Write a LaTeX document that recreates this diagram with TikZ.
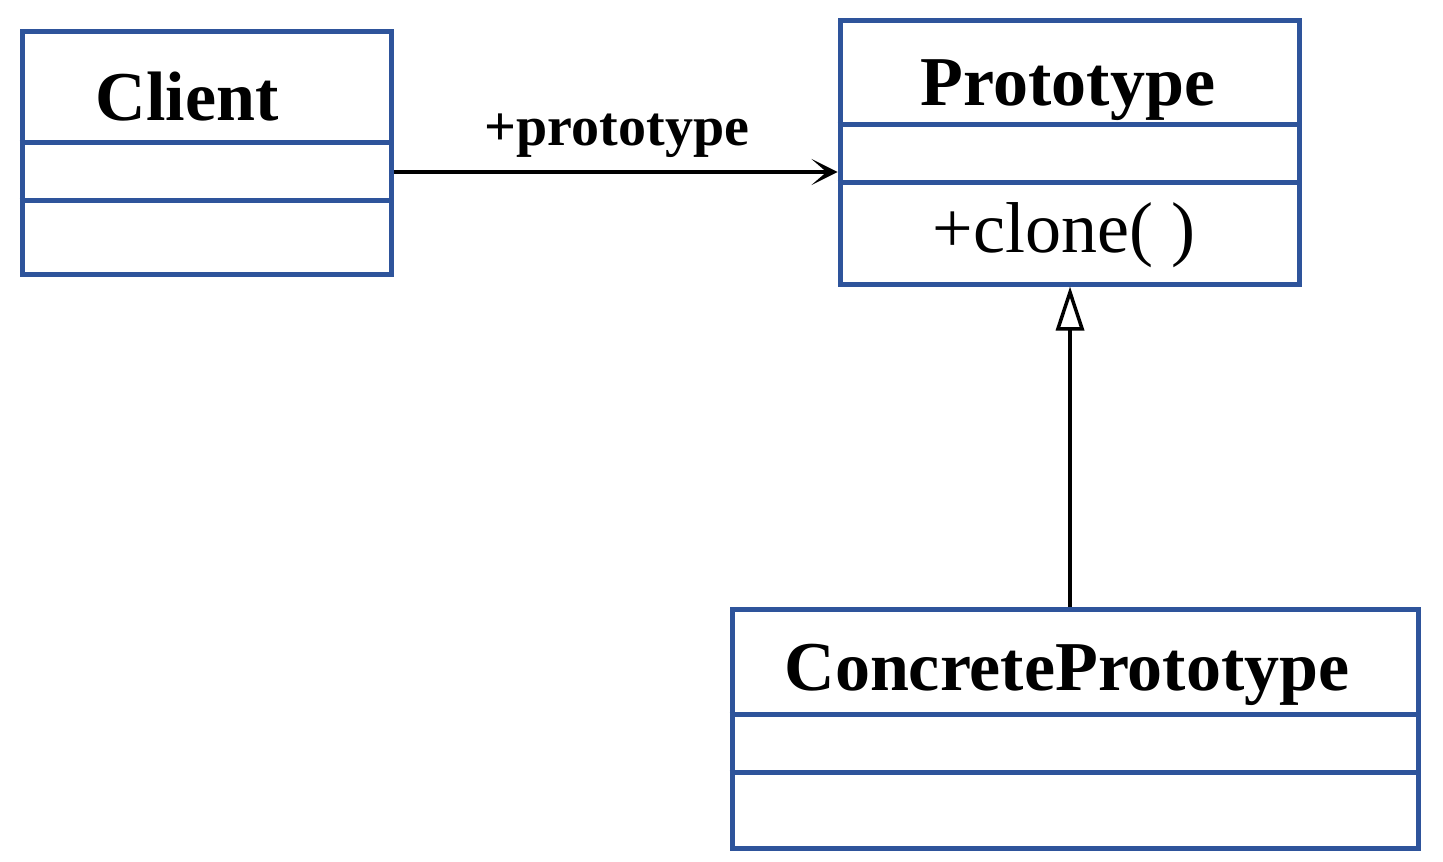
\documentclass[tikz,border=0pt]{standalone}
\usepackage{fontspec}
\setmainfont{Liberation Serif}
\usetikzlibrary{arrows.meta}
\definecolor{umlblue}{RGB}{46,84,155}
\tikzset{
  classbox/.style={draw=umlblue, line width=5pt, fill=none, inner sep=0pt},
  divider/.style={draw=umlblue, line width=5pt},
  titletext/.style={anchor=base, inner sep=0pt, font=\fontsize{70}{70}\selectfont\bfseries},
  labeltext/.style={anchor=base, inner sep=0pt, font=\fontsize{56}{56}\selectfont\bfseries},
  optext/.style={anchor=base, inner sep=0pt, font=\fontsize{72}{72}\selectfont},
  assoc/.style={draw=black, line width=3.5pt, -{Stealth[length=26pt,width=26pt,inset=15pt]}},
  inherit/.style={draw=black, line width=3.5pt, -{Triangle[open,length=44pt,width=28pt,line width=3.5pt]}}
}
\begin{document}
\begin{tikzpicture}[x=1pt,y=-1pt]
\useasboundingbox (0,0) rectangle (1443,862);
% Client
\node[classbox, minimum width=369pt, minimum height=243pt] (client) at (206.5,152.5) {};
\draw[divider] (client.west |- 0,142) -- (client.east |- 0,142);
\draw[divider] (client.west |- 0,200) -- (client.east |- 0,200);
\node[titletext] (clientname) at (187,120) {Client};
% Prototype
\node[classbox, minimum width=459pt, minimum height=264pt] (proto) at (1069.5,152) {};
\draw[divider] (proto.west |- 0,124) -- (proto.east |- 0,124);
\draw[divider] (proto.west |- 0,182) -- (proto.east |- 0,182);
\node[titletext] (protoname) at (1068,105) {Prototype};
\node[optext] (clone) at (1064,252) {+clone( )};
% ConcretePrototype
\node[classbox, minimum width=686pt, minimum height=239pt] (concrete) at (1075,728.5) {};
\draw[divider] (concrete.west |- 0,714) -- (concrete.east |- 0,714);
\draw[divider] (concrete.west |- 0,772) -- (concrete.east |- 0,772);
\node[titletext] (concretename) at (1067,690) {ConcretePrototype};
% Association
\coordinate (assocA) at (client.east |- 0,172);
\coordinate (assocB) at (proto.west |- 0,172);
\draw[assoc] (assocA) -- (assocB);
\node[labeltext] (assoclabel) at (617,145) {+prototype};
% Generalization
\coordinate (genA) at (1070,609);
\coordinate (genB) at (1070,286);
\draw[inherit] (concrete.north -| genA) -- (proto.south -| genB);
\end{tikzpicture}
\end{document}
